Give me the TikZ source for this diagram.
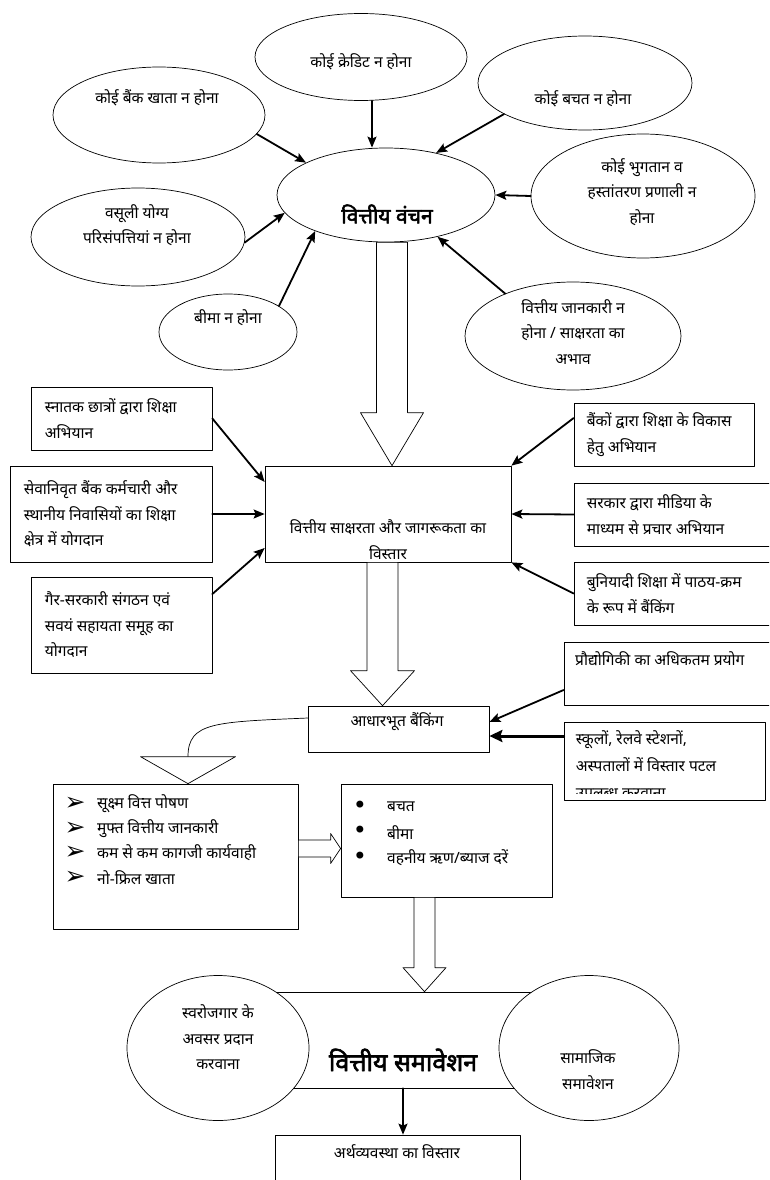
\documentclass[tikz,border=0pt]{standalone}
\usepackage{fontspec}
\newfontfamily\hindi[Script=Devanagari]{Noto Sans}
\newfontfamily\hindib[Script=Devanagari,FakeBold=2.5]{Noto Sans}
\newfontfamily\symb{DejaVu Sans}
\usetikzlibrary{shapes.geometric,calc,arrows.meta}
% block arrows: start, tip, half shaft, half head, head length
\newcommand\blockdown[5]{\draw[blk] let \p1=(#1),\p2=(#2) in
	(\x1-#3,\y1) -- (\x1-#3,\y2+#5) -- (\x1-#4,\y2+#5) -- (\x1,\y2) -- (\x1+#4,\y2+#5) -- (\x1+#3,\y2+#5) -- (\x1+#3,\y1) -- cycle;}
\newcommand\blockright[5]{\draw[blk] let \p1=(#1),\p2=(#2) in
	(\x1,\y1+#3) -- (\x2-#5,\y1+#3) -- (\x2-#5,\y1+#4) -- (\x2,\y1) -- (\x2-#5,\y1-#4) -- (\x2-#5,\y1-#3) -- (\x1,\y1-#3) -- cycle;}
\begin{document}
\begin{tikzpicture}[>={Stealth[length=11pt,width=9pt,inset=2pt]},line join=round,line cap=round,x=1pt,y=-1pt,
	font=\hindi\fontsize{15.5}{25.5}\selectfont,
	ell/.style={draw,ellipse,fill=white,inner sep=0pt,line width=.7pt},
	box/.style={draw,fill=white,inner sep=0pt,line width=.7pt},
	txt/.style={inner sep=0pt,align=center},
	arr/.style={->,line width=1.8pt},
	blk/.style={draw,fill=white,line width=.7pt}]
	\useasboundingbox (0,0) rectangle (769,1180);
	\clip (0,0) rectangle (769,1180);
	%Vong elip tren
	\foreach \n/\p/\w/\h/\q/\t in {
		credit/{361,57}/212/87/{361,62}/{कोई क्रेडिट न होना},
		bank/{159,115}/212/96/{157,98}/{कोई बैंक खाता न होना},
		saving/{585,83}/214/94/{583,99}/{कोई बचत न होना},
		pay/{643,196}/224/124/{642,192}/{कोई भुगतान व\\हस्तांतरण प्रणाली न\\होना},
		recov/{138,237}/214/98/{137,225}/{वसूली योग्य\\परिसंपत्तियां न होना},
		insur/{228,332}/138/76/{228,318}/{बीमा न होना},
		liter/{573,336}/216/108/{573,332}/{वित्तीय जानकारी न\\होना  / साक्षरता का\\अभाव}}{
		\node[ell,minimum width=\w pt,minimum height=\h pt] (\n) at (\p) {};
		\node[txt] (\n-t) at (\q) {\t};}
	\node[ell,minimum width=218pt,minimum height=94pt] (vanchan) at (386,195) {};
	\node[txt,font=\hindib\fontsize{21}{24}\selectfont] (vanchan-t) at (387,214) {वित्तीय वंचन};
	\draw[arr] (bank.-11) -- (vanchan.158);
	\draw[arr] ([xshift=11pt]credit.south) -- ([xshift=-14pt]vanchan.north);
	\draw[arr] (saving.-159) -- (vanchan.40);
	\draw[arr] (pay.west) -- (vanchan.east);
	\draw[arr] (recov.-3) -- (vanchan.190);
	\draw[arr] (insur.27) -- (vanchan.207);
	\draw[arr] (liter.148) -- (vanchan.-39);
	%Hop chu nhat
	\foreach \n/\p/\w/\h/\i/\t in {
		stn/{121.5,418.5}/181/63/14/{स्नातक छात्रों द्वारा शिक्षा\\अभियान},
		ret/{111,514}/202/96/14/{सेवानिवृत बैंक कर्मचारी और\\स्थानीय निवासियों का  शिक्षा\\क्षेत्र में योगदान},
		ngo/{121.5,625}/181/96/14/{गैर-सरकारी संगठन एवं\\सवयं सहायता समूह का\\योगदान},
		bnk/{664,434.5}/180/63/13/{बैंकों द्वारा शिक्षा के विकास\\हेतु अभियान},
		gov/{674,514.5}/200/63/13/{सरकार द्वारा मीडिया के\\माध्यम से प्रचार अभियान},
		basic/{674,593.5}/200/63/13/{बुनियादी शिक्षा में पाठय-क्रम\\के रूप में बैंकिंग}}{
		\node[box,minimum width=\w pt,minimum height=\h pt] (\n) at (\p) {};
		\node[txt,anchor=west,align=left] (\n-t) at ([xshift=\i pt]\n.west) {\t};}
	\node[box,minimum width=246pt,minimum height=96pt] (lit) at (388,514) {};
	\begin{scope}
		\clip ([yshift=4pt]lit.south west) rectangle (lit.north east);
		\node[txt] (lit-t) at (388,539.5) {वित्तीय साक्षरता और जागरूकता का\\विस्तार};
	\end{scope}
	\blockdown{[xshift=6pt]vanchan.south}{[xshift=4pt]lit.north}{15.5}{31.5}{53}
	\draw[arr] (stn.east) -- ([yshift=32pt]lit.west);
	\draw[arr] (ret.east) -- (lit.west);
	\draw[arr] ([yshift=31pt]ngo.east) -- ([yshift=-34pt]lit.west);
	\draw[arr] ([yshift=16.5pt]bnk.west) -- (lit.north east);
	\draw[arr] (gov.west) -- (lit.east);
	\draw[arr] (basic.west) -- (lit.south east);
	%Aadharbhut banking
	\node[box,minimum width=181pt,minimum height=46pt] (base) at (398.5,729) {};
	\node[txt] (base-t) at (397,722) {आधारभूत  बैंकिंग};
	\blockdown{[xshift=-5.5pt]lit.south}{[xshift=-16.5pt]base.north}{15.5}{32}{35}
	\node[box,minimum width=210pt,minimum height=63pt] (tech) at (669,673.5) {};
	\node[txt,anchor=west] (tech-t) at (575,659) {प्रौद्योगिकी का अधिकतम प्रयोग};
	\node[box,minimum width=201pt,minimum height=78pt] (school) at (664.5,761) {};
	\begin{scope}
		\clip ([yshift=7pt]school.south west) rectangle (school.north east);
		\node[txt,anchor=west,align=left,font=\hindi\fontsize{15.5}{27}\selectfont] (school-t) at ([xshift=12pt,yshift=-4pt]school.west) {स्कूलों, रेलवे स्टेशनों,\\अस्पतालों में विस्तार पटल\\उपलब्ध करवाना};
	\end{scope}
	\draw[arr] ([yshift=-16.5pt]tech.west) -- ([yshift=7pt]base.east);
	\draw[-{Stealth[length=13pt,width=12pt,inset=2pt]},line width=3pt] ([yshift=25pt]school.west) -- ([yshift=25pt]school.west -| base.east);
	%Hai danh sach
	\node[box,minimum width=245pt,minimum height=145pt] (leftlist) at (175.5,856.5) {};
	\node[box,minimum width=211pt,minimum height=113pt] (rightlist) at (446.5,840.5) {};
	\foreach \t [count=\i] in {सूक्ष्म वित्त पोषण,मुफ्त वित्तीय जानकारी,कम से कम कागजी कार्यवाही,नो-फ्रिल खाता}{
		\node[txt,font=\symb\fontsize{25}{25}\selectfont] (pt\i) at (75,779.5+24.5*\i) {➢};
		\node[txt,anchor=west] (li\i) at (97,779.5+24.5*\i) {\t};}
	\foreach \t [count=\i] in {बचत,बीमा,{वहनीय ऋण/ब्याज दरें}}{
		\node[txt,font=\symb\fontsize{24}{24}\selectfont] (bu\i) at (360,781.5+25.5*\i) {•};
		\node[txt,anchor=west] (ri\i) at (387,781.5+25.5*\i) {\t};}
	\coordinate (tri) at ([xshift=12.5pt]leftlist.north);
	\draw[line width=.7pt] ([yshift=11pt]base.west) .. controls (215,722) and (188,722) .. ([yshift=27pt]tri);
	\draw[blk] ([shift={(-47.5pt,27pt)}]tri) -- ([shift={(47.5pt,27pt)}]tri) -- (tri) -- cycle;
	\blockright{[yshift=8pt]leftlist.east}{[yshift=8pt]rightlist.west}{8.5}{15}{10}
	%Vittiya samaveshan
	\node[box,minimum width=310pt,minimum height=96pt] (incl) at (405,1040) {};
	\blockdown{[xshift=-22pt]rightlist.south}{[xshift=20pt]incl.north}{10.5}{21.5}{24}
	\node[ell,minimum width=182pt,minimum height=145pt] (selfemp) at (218,1048) {};
	\node[ell,minimum width=180pt,minimum height=145pt] (social) at (589,1048) {};
	\node[txt] (selfemp-t) at (218,1037.5) {स्वरोजगार के\\अवसर प्रदान\\करवाना};
	\node[txt] (social-t) at (588,1069.5) {सामाजिक\\समावेशन};
	\node[txt,font=\hindib\fontsize{25}{28}\selectfont] (incl-t) at (403,1060) {वित्तीय समावेशन};
	\node[box,minimum width=245pt,minimum height=70pt] (econ) at (397.5,1170) {};
	\node[txt] (econ-t) at (397,1152) {अर्थव्यवस्था का विस्तार};
	\draw[arr] ([xshift=-2pt]incl.south) -- ([xshift=-2pt]incl.south |- econ.north);
\end{tikzpicture}
\end{document}
